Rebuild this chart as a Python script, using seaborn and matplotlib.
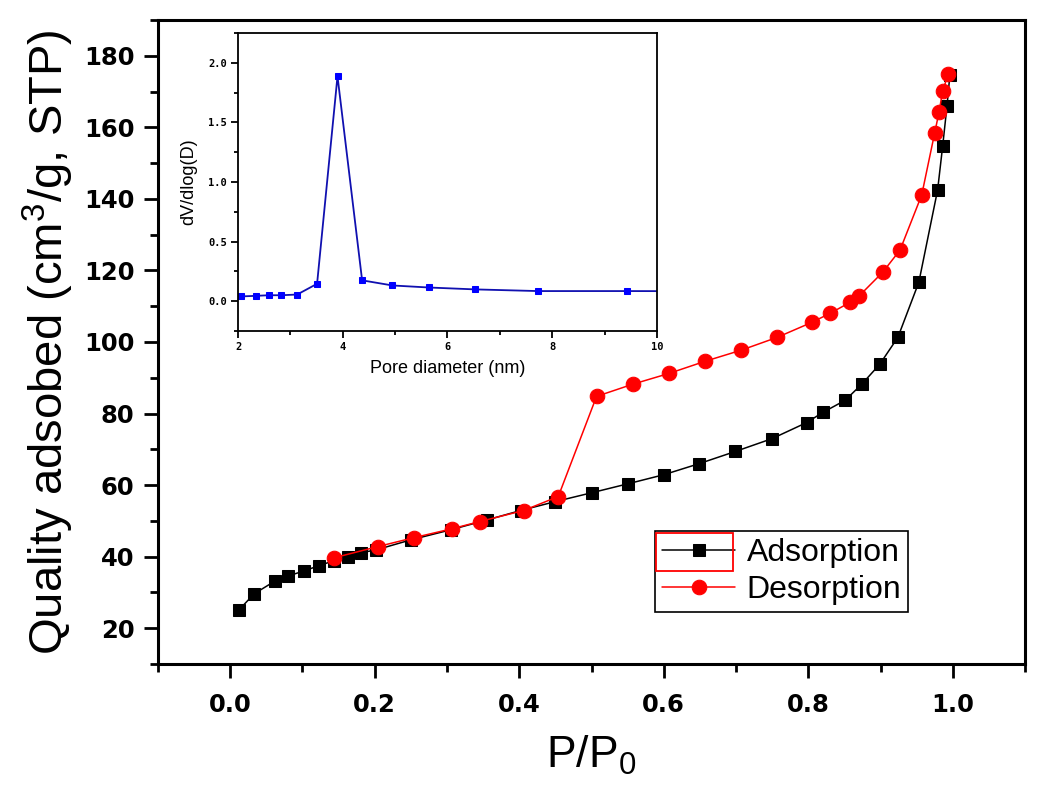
import numpy as np
import pandas as pd
import seaborn as sns
import matplotlib
matplotlib.use("Agg")
import matplotlib.pyplot as plt
from matplotlib.patches import Rectangle

# %% Data
ads_p = [0.012, 0.033, 0.062, 0.080, 0.102, 0.123, 0.144, 0.163, 0.181, 0.202,
         0.250, 0.305, 0.356, 0.402, 0.450, 0.501, 0.551, 0.600, 0.649, 0.699,
         0.750, 0.798, 0.820, 0.851, 0.874, 0.899, 0.924, 0.953, 0.979, 0.986,
         0.992, 0.996]
ads_v = [25.1, 29.6, 33.2, 34.6, 36.0, 37.5, 38.9, 40.0, 41.1, 41.9,
         44.7, 47.5, 50.3, 52.9, 55.4, 57.9, 60.4, 62.9, 66.0, 69.4,
         73.0, 77.5, 80.3, 83.7, 88.2, 93.8, 101.3, 116.7, 142.5, 154.8,
         166.0, 174.7]

des_p = [0.144, 0.204, 0.254, 0.307, 0.345, 0.406, 0.454, 0.507, 0.557, 0.607,
         0.657, 0.707, 0.757, 0.805, 0.830, 0.858, 0.870, 0.903, 0.927, 0.957,
         0.975, 0.981, 0.986, 0.994]
des_v = [39.7, 42.8, 45.3, 47.8, 49.8, 52.9, 56.8, 84.8, 88.2, 91.2,
         94.6, 97.7, 101.3, 105.5, 108.0, 111.1, 112.8, 119.5, 125.7, 141.1,
         158.5, 164.3, 170.2, 175.0]

pore_d = [2.05, 2.34, 2.59, 2.83, 3.13, 3.51, 3.90, 4.37, 4.95, 5.64, 6.53, 7.73, 9.43, 12.0]
pore_dv = [0.040, 0.045, 0.050, 0.050, 0.056, 0.146, 1.887, 0.175, 0.132, 0.115, 0.099, 0.085, 0.085, 0.083]

ads = pd.DataFrame({"p": ads_p, "v": ads_v})
des = pd.DataFrame({"p": des_p, "v": des_v})
psd = pd.DataFrame({"d": pore_d, "dv": pore_dv})

# %% Plot
sns.set_style("ticks")
plt.rcParams["font.family"] = ["Liberation Sans", "DejaVu Sans"]
plt.rcParams["mathtext.default"] = "regular"
for k in ["text.color", "axes.labelcolor", "xtick.color", "ytick.color", "axes.edgecolor"]:
    plt.rcParams[k] = "black"

fig = plt.figure(figsize=(10.63, 8.0), dpi=100)
ax = fig.add_axes([0.1486, 0.17, 0.8157, 0.805])

sns.lineplot(data=ads, x="p", y="v", ax=ax, color="black", marker="s", markersize=9,
             markeredgecolor="black", linewidth=1.1, sort=False, estimator=None,
             label="Adsorption")
sns.lineplot(data=des, x="p", y="v", ax=ax, color="red", marker="o", markersize=10.5,
             markeredgecolor="red", linewidth=1.1, sort=False, estimator=None,
             label="Desorption")

ax.set_xlim(-0.1, 1.1)
ax.set_ylim(10, 190)
ax.set_xticks(np.arange(0, 1.01, 0.2))
ax.set_xticks(np.arange(-0.1, 1.11, 0.2), minor=True)
ax.set_yticks(np.arange(20, 181, 20))
ax.set_yticks(np.arange(10, 191, 20), minor=True)
ax.set_xticklabels([f"{t:.1f}" for t in np.arange(0, 1.01, 0.2)])

for s in ax.spines.values():
    s.set_linewidth(2.2)
    s.set_color("black")
ax.tick_params(which="major", direction="out", length=10, width=2, labelsize=17.5, pad=7)
ax.tick_params(which="minor", direction="out", length=6, width=2)
ax.tick_params(axis="x", which="major", pad=11)
for lab in ax.get_xticklabels() + ax.get_yticklabels():
    lab.set_fontweight("bold")
    lab.set_family(["DejaVu Sans"])

ax.set_xlabel("P/P$_0$", fontsize=32, labelpad=12)
ax.set_ylabel("Quality adsobed (cm$^3$/g, STP)", fontsize=34, labelpad=6)

leg = ax.legend(loc="lower left", bbox_to_anchor=(0.573, 0.081), fontsize=23,
                frameon=True, fancybox=False, edgecolor="black", framealpha=1,
                handlelength=2.3, handletextpad=0.35, labelspacing=0.2,
                borderpad=0.22, borderaxespad=0)
leg.get_frame().set_linewidth(1.2)
ax.add_patch(Rectangle((0.574, 0.1444), 0.089, 0.059, transform=ax.transAxes,
                       fill=False, edgecolor="red", linewidth=1.3, zorder=10))

# inset: pore size distribution
ins = fig.add_axes([0.2239, 0.58625, 0.3941, 0.3725])
sns.lineplot(data=psd, x="d", y="dv", ax=ins, color="#1010b0", marker="s", markersize=5,
             markerfacecolor="#0000ff", markeredgecolor="#0000ff", linewidth=1.3,
             sort=False, estimator=None)
ins.set_xlim(2, 10)
ins.set_ylim(-0.25, 2.25)
ins.set_xticks([2, 4, 6, 8, 10])
ins.set_xticks([3, 5, 7, 9], minor=True)
ins.set_yticks([0.0, 0.5, 1.0, 1.5, 2.0])
ins.set_yticks([-0.25, 0.25, 0.75, 1.25, 1.75, 2.25], minor=True)
ins.set_yticklabels(["0.0", "0.5", "1.0", "1.5", "2.0"])
for s in ins.spines.values():
    s.set_linewidth(1.3)
    s.set_color("black")
ins.tick_params(which="major", direction="out", length=5, width=1.3, labelsize=7.5, pad=3)
ins.tick_params(which="minor", direction="out", length=3, width=1.3)
for lab in ins.get_xticklabels() + ins.get_yticklabels():
    lab.set_fontweight("bold")
    lab.set_family(["DejaVu Sans Mono"])
ins.set_xlabel("Pore diameter (nm)", fontsize=13, labelpad=6)
ins.set_ylabel("dV/dlog(D)", fontsize=13, labelpad=8)

fig.savefig("out.png", dpi=100)
